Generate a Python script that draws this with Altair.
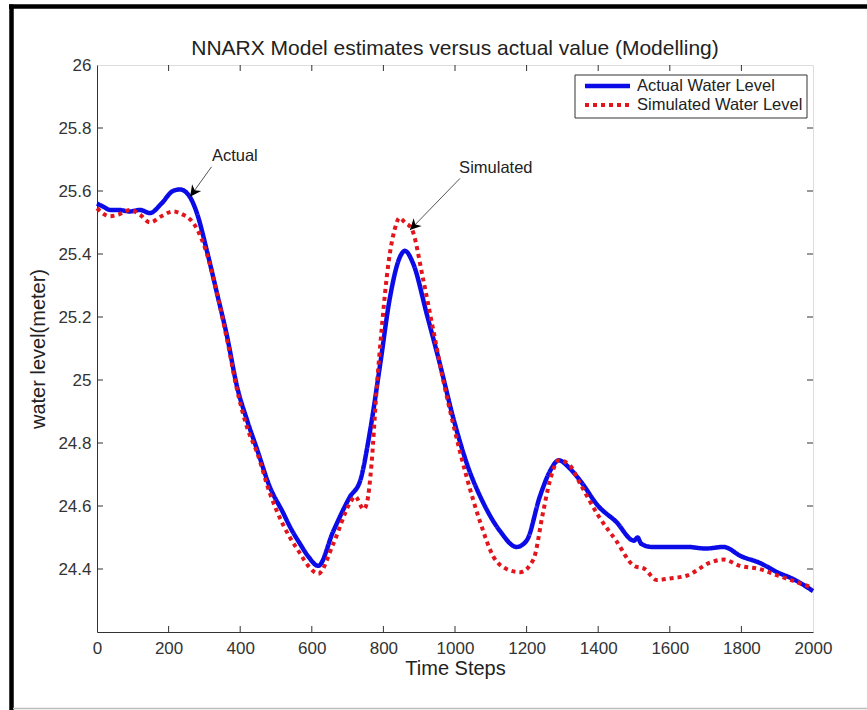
import altair as alt
import pandas as pd

chart_title = "NNARX Model estimates versus actual value (Modelling)"
series_names = ["Actual Water Level", "Simulated Water Level"]
series_colors = ["#0b0be8", "#e2141c"]

t_actual = [0, 18, 36, 60, 92, 120, 148, 180, 212, 232, 260, 279, 307, 335, 363, 391, 419, 447,
            483, 520, 539, 567, 590, 618, 660, 707, 735, 763, 791, 818, 846, 860, 883, 921, 958,
            995, 1033, 1079, 1126, 1172, 1200, 1237, 1265, 1290, 1320, 1350, 1400, 1450, 1500,
            1510, 1520, 1550, 1600, 1650, 1700, 1750, 1800, 1850, 1900, 1950, 2000]
actual = [25.56, 25.55, 25.54, 25.54, 25.535, 25.54, 25.53, 25.56, 25.60, 25.605, 25.58, 25.53,
          25.41, 25.276, 25.14, 24.98, 24.873, 24.78, 24.66, 24.578, 24.534, 24.48, 24.44, 24.41,
          24.52, 24.63, 24.68, 24.84, 25.05, 25.26, 25.39, 25.41, 25.37, 25.21, 25.05, 24.88,
          24.735, 24.61, 24.52, 24.47, 24.49, 24.63, 24.71, 24.745, 24.72, 24.68, 24.60, 24.55,
          24.49, 24.50, 24.48, 24.47, 24.47, 24.47, 24.465, 24.47, 24.44, 24.42, 24.39, 24.365,
          24.33]

t_sim = [0, 36, 60, 92, 120, 148, 180, 212, 240, 260, 279, 307, 335, 363, 391, 419, 447, 483,
         520, 539, 567, 590, 618, 660, 707, 721, 745, 754, 767, 781, 795, 814, 832, 845, 860,
         879, 911, 939, 967, 995, 1033, 1070, 1107, 1144, 1182, 1219, 1246, 1265, 1290, 1320,
         1350, 1400, 1450, 1500, 1530, 1563, 1600, 1650, 1712, 1750, 1796, 1850, 1900, 1950, 2000]
simulated = [25.545, 25.52, 25.525, 25.54, 25.525, 25.50, 25.52, 25.535, 25.525, 25.51, 25.48,
             25.40, 25.276, 25.13, 24.97, 24.85, 24.77, 24.64, 24.54, 24.50, 24.45, 24.41,
             24.385, 24.48, 24.61, 24.63, 24.59, 24.61, 24.735, 24.97, 25.16, 25.37, 25.48,
             25.515, 25.50, 25.48, 25.32, 25.16, 25.00, 24.86, 24.69, 24.55, 24.44, 24.40,
             24.39, 24.43, 24.58, 24.68, 24.745, 24.73, 24.67, 24.57, 24.49, 24.41, 24.40,
             24.365, 24.37, 24.38, 24.42, 24.43, 24.41, 24.40, 24.38, 24.36, 24.34]

x_ticks = [0, 200, 400, 600, 800, 1000, 1200, 1400, 1600, 1800, 2000]
y_ticks = [24.4, 24.6, 24.8, 25.0, 25.2, 25.4, 25.6, 25.8, 26.0]

ann_text = ["Actual", "Simulated"]
ann_text_t = [385, 1114]
ann_text_v = [25.711, 25.672]
ann_tail_t = [320, 1014]
ann_tail_v = [25.677, 25.640]
ann_head_t = [260, 874]
ann_head_v = [25.582, 25.476]
ann_head_angle = [216, 224]

W, H = 716, 567
FONT = "Liberation Sans"

xs = alt.Scale(domain=[0, 2000], nice=False, zero=False)
ys = alt.Scale(domain=[24.2, 26.0], nice=False, zero=False)

df_a = pd.DataFrame({"t": t_actual, "v": actual, "series": series_names[0]})
df_s = pd.DataFrame({"t": t_sim, "v": simulated, "series": series_names[1]})

color_enc = alt.Color("series:N", scale=alt.Scale(domain=series_names, range=series_colors), legend=None)
dash_enc = alt.StrokeDash("series:N", scale=alt.Scale(domain=series_names, range=[[1, 0], [4, 4]]), legend=None)

x_axis = alt.Axis(values=x_ticks, title="Time Steps", tickSize=0, labelPadding=8, labelFontSize=17,
                  labelColor="#333333", labelFont=FONT, titleFont=FONT, titleFontSize=20,
                  titleFontWeight="normal", titleColor="#222222", titleY=36, titleBaseline="middle",
                  grid=False, domainColor="#333333", format="d", labelFlush=False)
y_axis = alt.Axis(values=y_ticks, title="water level(meter)", tickSize=0, labelPadding=6,
                  labelFontSize=17, labelColor="#333333", labelFont=FONT, titleFont=FONT,
                  titleFontSize=20, titleFontWeight="normal", titleColor="#222222",
                  titleX=-59, titleY=H / 2, titleAngle=270, titleBaseline="middle", grid=False,
                  domainColor="#333333", format="~g", labelFlush=False)

line_a = alt.Chart(df_a).mark_line(strokeWidth=4.5, interpolate="monotone").encode(
    x=alt.X("t:Q", scale=xs, axis=x_axis),
    y=alt.Y("v:Q", scale=ys, axis=y_axis),
    color=color_enc, strokeDash=dash_enc)

line_s = alt.Chart(df_s).mark_line(strokeWidth=4, interpolate="monotone").encode(
    x=alt.X("t:Q", scale=xs), y=alt.Y("v:Q", scale=ys),
    color=color_enc, strokeDash=dash_enc)

# inward tick marks on all four sides
dfx = pd.DataFrame({"t": x_ticks[1:-1]})
dfy = pd.DataFrame({"v": y_ticks[:-1]})
tick_style = dict(color="#333333", strokeWidth=1)
tb = alt.Chart(dfx).mark_rule(**tick_style).encode(x=alt.X("t:Q", scale=xs), y=alt.value(H), y2=alt.value(H - 6))
tt = alt.Chart(dfx).mark_rule(**tick_style).encode(x=alt.X("t:Q", scale=xs), y=alt.value(0), y2=alt.value(6))
tl = alt.Chart(dfy).mark_rule(**tick_style).encode(y=alt.Y("v:Q", scale=ys), x=alt.value(0), x2=alt.value(6))
tr = alt.Chart(dfy).mark_rule(**tick_style).encode(y=alt.Y("v:Q", scale=ys), x=alt.value(W), x2=alt.value(W - 6))

ann = pd.DataFrame({"text": ann_text, "tt": ann_text_t, "tv": ann_text_v,
                    "t1": ann_tail_t, "v1": ann_tail_v, "t2": ann_head_t, "v2": ann_head_v,
                    "ang": ann_head_angle})
ann_txt = alt.Chart(ann).mark_text(font=FONT, fontSize=16.5, color="#222222", baseline="middle").encode(
    x=alt.X("tt:Q", scale=xs), y=alt.Y("tv:Q", scale=ys), text="text:N")
ann_line = alt.Chart(ann).mark_rule(color="#555555", strokeWidth=1).encode(
    x=alt.X("t1:Q", scale=xs), y=alt.Y("v1:Q", scale=ys), x2="t2:Q", y2="v2:Q")
ann_head = alt.Chart(ann).mark_point(shape="M0,0L-0.5,1L0,0.7L0.5,1Z", filled=True, size=500,
                                     color="black", opacity=1).encode(
    x=alt.X("t2:Q", scale=xs), y=alt.Y("v2:Q", scale=ys), angle=alt.Angle("ang:Q", scale=None))

# legend (boxed, top right)
one = pd.DataFrame({"k": [0]})
leg_box = alt.Chart(one).mark_rect(fill="white", stroke="#333333", strokeWidth=1).encode(
    x=alt.value(478), x2=alt.value(710), y=alt.value(10), y2=alt.value(53))
leg_l1 = alt.Chart(one).mark_rule(color=series_colors[0], strokeWidth=4.5).encode(
    x=alt.value(488), x2=alt.value(533), y=alt.value(21))
leg_l2 = alt.Chart(one).mark_rule(color=series_colors[1], strokeWidth=4, strokeDash=[4, 4]).encode(
    x=alt.value(488), x2=alt.value(533), y=alt.value(40))
leg_t1 = alt.Chart(one).mark_text(text=series_names[0], font=FONT, fontSize=16.5, color="#222222",
                                  align="left", baseline="middle").encode(x=alt.value(540), y=alt.value(21))
leg_t2 = alt.Chart(one).mark_text(text=series_names[1], font=FONT, fontSize=16.5, color="#222222",
                                  align="left", baseline="middle").encode(x=alt.value(540), y=alt.value(40))

title_mark = alt.Chart(one).mark_text(text=chart_title, font=FONT, fontSize=21, color="#222222",
                                      align="center", baseline="middle").encode(
    x=alt.value(W / 2), y=alt.value(-16))

# outer page frame
frame_top = alt.Chart(one).mark_rule(color="black", strokeWidth=4.5).encode(
    x=alt.value(-88), x2=alt.value(800), y=alt.value(-58.5))
frame_left = alt.Chart(one).mark_rule(color="black", strokeWidth=4.5).encode(
    x=alt.value(-85.5), y=alt.value(-60.5), y2=alt.value(660))
frame_bottom = alt.Chart(one).mark_rule(color="#bbbbbb", strokeWidth=1.5).encode(
    x=alt.value(-84), x2=alt.value(800), y=alt.value(643.5))

chart = alt.layer(line_a, line_s, tb, tt, tl, tr, ann_line, ann_head, ann_txt,
                  leg_box, leg_l1, leg_l2, leg_t1, leg_t2, title_mark,
                  frame_top, frame_left, frame_bottom).properties(
    width=W, height=H,
    autosize=alt.AutoSizeParams(type="none"),
    padding={"left": 97, "top": 65, "right": 54, "bottom": 78},
).configure_view(stroke="#333333", strokeWidth=1).configure(background="white")

chart.save("out.html", embed_options={"renderer": "svg", "actions": False})
